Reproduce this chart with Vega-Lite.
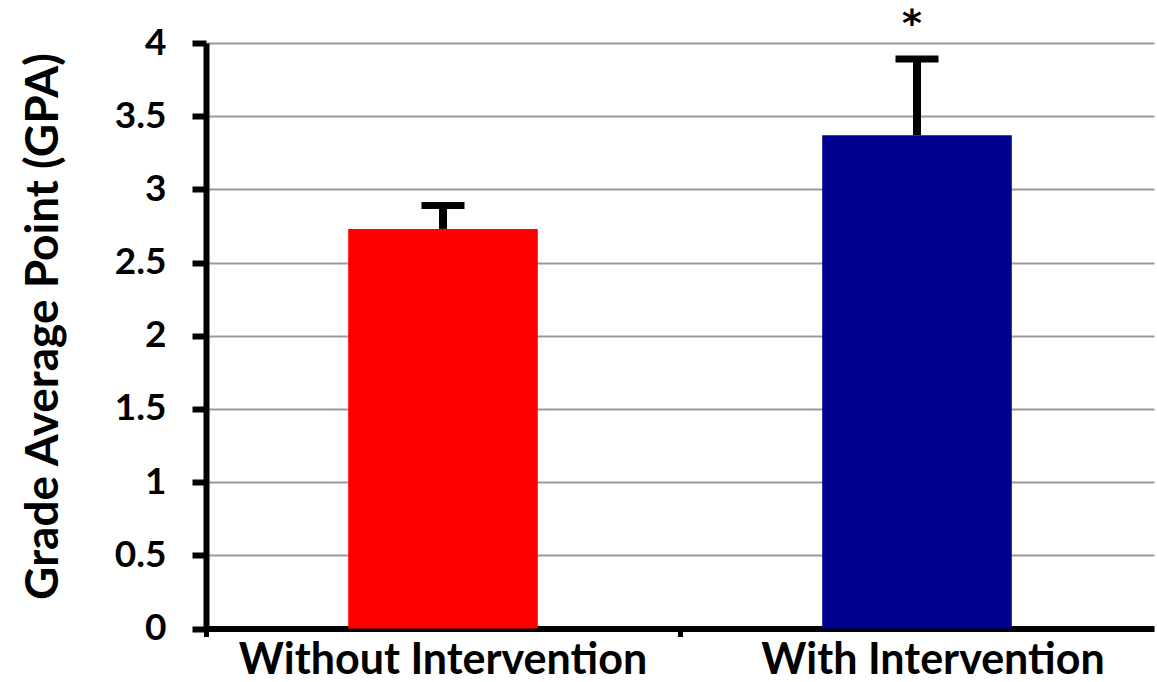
{
  "$schema": "https://vega.github.io/schema/vega-lite/v6.json",
  "width": 948,
  "height": 585.5,
  "autosize": {"type": "none"},
  "padding": {"left": 206, "top": 43, "right": 3, "bottom": 53.5},
  "background": "white",
  "config": {"view": {"stroke": null}, "font": "Lato"},
  "data": {
    "values": [
      {"group": "Without Intervention", "gpa": 2.73, "err": 2.89, "sig": ""},
      {"group": "With Intervention", "gpa": 3.37, "err": 3.89, "sig": "*"}
    ]
  },
  "encoding": {
    "x": {
      "field": "group",
      "type": "nominal",
      "sort": null,
      "scale": {"paddingInner": 0.6, "paddingOuter": 0.3},
      "axis": {
        "title": null,
        "labelAngle": 0,
        "labelLimit": 0,
        "labelFont": "Lato",
        "labelFontWeight": "bold",
        "labelFontSize": 43,
        "labelColor": "#000000",
        "labelPadding": 3,
        "labelOffset": {"condition": {"test": "datum.value === 'With Intervention'", "value": 16}, "value": 0},
        "domainColor": "#000000",
        "domainWidth": 6,
        "tickColor": "#000000",
        "tickWidth": 5,
        "tickSize": 8,
        "bandPosition": -0.75,
        "grid": false
      }
    }
  },
  "layer": [
    {
      "mark": {"type": "bar"},
      "encoding": {
        "y": {
          "field": "gpa",
          "type": "quantitative",
          "scale": {"domain": [0, 4], "nice": false},
          "axis": {
            "title": "Grade Average Point (GPA)",
            "titleFont": "Lato",
            "titleFontWeight": "bold",
            "titleFontSize": 46,
            "titleColor": "#000000",
            "titleX": -163,
            "titleY": 283,
            "titleBaseline": "middle",
            "values": [0, 0.5, 1, 1.5, 2, 2.5, 3, 3.5, 4],
            "labelExpr": "datum.value",
            "labelFont": "Lato",
            "labelFontWeight": "bold",
            "labelFontSize": 37,
            "labelColor": "#000000",
            "labelPadding": 26,
            "labelLimit": 0,
            "domainColor": "#000000",
            "domainWidth": 6,
            "tickColor": "#000000",
            "tickWidth": 6,
            "tickSize": 14,
            "grid": true,
            "gridColor": "#9a9a9a",
            "gridWidth": 2
          }
        },
        "color": {
          "field": "group",
          "type": "nominal",
          "scale": {"domain": ["Without Intervention", "With Intervention"], "range": ["#ff0000", "#00008f"]},
          "legend": null
        }
      }
    },
    {
      "mark": {"type": "rule", "color": "#000000", "strokeWidth": 8},
      "encoding": {
        "y": {"field": "gpa", "type": "quantitative"},
        "y2": {"field": "err"}
      }
    },
    {
      "mark": {"type": "tick", "color": "#000000", "size": 43, "thickness": 7, "opacity": 1},
      "encoding": {
        "y": {"field": "err", "type": "quantitative"}
      }
    },
    {
      "mark": {"type": "text", "font": "DejaVu Sans", "fontWeight": "bold", "fontSize": 38, "color": "#000000", "baseline": "alphabetic", "dy": -23, "dx": -5},
      "encoding": {
        "y": {"field": "err", "type": "quantitative"},
        "text": {"field": "sig"}
      }
    }
  ]
}
